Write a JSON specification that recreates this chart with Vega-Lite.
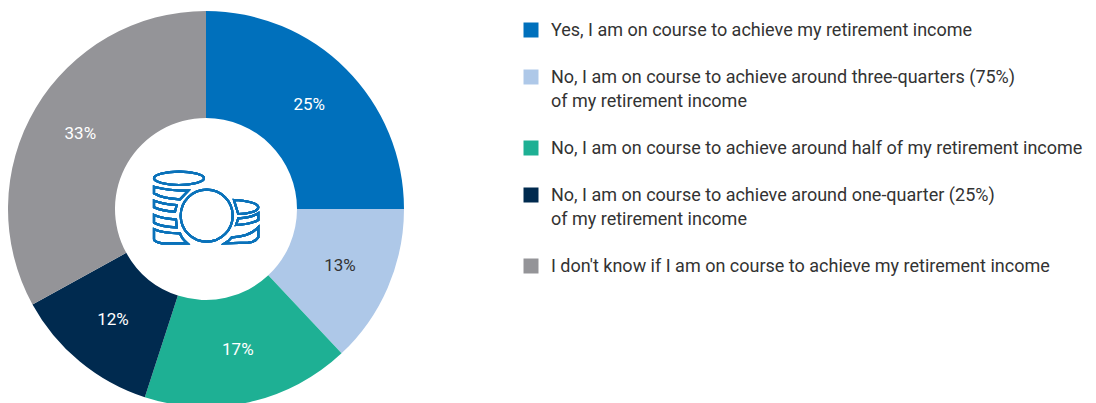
{
  "$schema": "https://vega.github.io/schema/vega-lite/v6.json",
  "width": 412,
  "height": 418,
  "padding": 0,
  "background": "white",
  "config": {"view": {"stroke": null}, "font": "Roboto"},
  "data": {"values": [
    {"rank": 1, "share": 0.25, "answer": "Yes, I am on course to achieve my retirement income"},
    {"rank": 2, "share": 0.13, "answer": "No, I am on course to achieve around three-quarters (75%)|of my retirement income"},
    {"rank": 3, "share": 0.17, "answer": "No, I am on course to achieve around half of my retirement income"},
    {"rank": 4, "share": 0.12, "answer": "No, I am on course to achieve around one-quarter (25%)|of my retirement income"},
    {"rank": 5, "share": 0.33, "answer": "I don't know if I am on course to achieve my retirement income"}
  ]},
  "layer": [
    {
      "mark": {"type": "arc", "innerRadius": 91, "outerRadius": 198},
      "encoding": {
        "theta": {"field": "share", "type": "quantitative", "stack": true},
        "order": {"field": "rank", "type": "ordinal"},
        "color": {
          "field": "answer",
          "type": "nominal",
          "sort": null,
          "scale": {
            "domain": [
              "Yes, I am on course to achieve my retirement income",
              "No, I am on course to achieve around three-quarters (75%)|of my retirement income",
              "No, I am on course to achieve around half of my retirement income",
              "No, I am on course to achieve around one-quarter (25%)|of my retirement income",
              "I don't know if I am on course to achieve my retirement income"
            ],
            "range": ["#0070bc", "#aec8e8", "#1eb094", "#002a4f", "#949498"]
          },
          "legend": {
            "orient": "none",
            "legendX": 522,
            "legendY": 21,
            "title": null,
            "symbolType": "square",
            "symbolSize": 225,
            "symbolStrokeWidth": 0,
            "symbolOpacity": 1,
            "labelFontSize": 18,
            "labelColor": "#333333",
            "labelLimit": 600,
            "labelOffset": 11,
            "labelBaseline": "alphabetic",
            "labelExpr": "split(datum.label + '|', '|')",
            "rowPadding": 4,
            "labelOverlap": false,
            "encoding": {"labels": {"lineHeight": {"value": 24}, "dy": {"value": 6}}}
          }
        }
      }
    },
    {
      "mark": {"type": "text", "radius": 146, "fontSize": 17, "dy": -1},
      "encoding": {
        "theta": {"field": "share", "type": "quantitative", "stack": true},
        "order": {"field": "rank", "type": "ordinal"},
        "text": {"field": "share", "type": "quantitative", "format": ".0%"},
        "color": {"condition": {"test": "datum.rank === 2", "value": "#333333"}, "value": "#ffffff"}
      }
    },
    {
      "mark": {
        "type": "point",
        "size": 4,
        "filled": false,
        "opacity": 1,
        "fill": null,
        "stroke": "#0a72ba",
        "strokeWidth": 2.2,
        "shape": "M-52,-30.7 C-52,-34.5 -40,-37.4 -27,-37.4 C-14,-37.4 -2,-34.5 -2,-30.7 C-2,-27 -14,-24 -27,-24 C-40,-24 -52,-27 -52,-30.7 Z M-52,-22.3 C-42,-19.5 -30,-18.3 -17.7,-18.3 L-26,-9.7 C-36,-10 -46,-12 -52,-15.7 Z M-52,-8.3 C-46,-6 -38,-4.5 -29.3,-4 L-31,2.7 C-40,2.2 -47,0.8 -52,-1.7 Z M-52,6 C-46,8.5 -38,10 -30,10.3 L-29.3,18.3 C-39,17.8 -47,16.5 -52,13.7 Z M-52,20.3 C-46,23 -36,24.3 -26,24.3 C-25,28 -22,31.5 -18.7,34.3 L-44,34.3 C-49,33.5 -52,32 -52,30.3 Z M26.67,6.7 A26,26 0 1 1 -25.33,6.7 A26,26 0 1 1 26.67,6.7 Z M28,-9 C40,-8.5 52.3,-6 52.3,-1.7 C52.3,2 43,5 32.3,5 C31,1 29,-5 28,-9 Z M52.3,4.3 L52.3,11 C47,14 39,15.7 30,16 L32.3,9.3 C40,9 48,7 52.3,4.3 Z M52.3,18.3 L52.3,28.3 C50,31.5 46,33.5 42.3,33.7 L19,34.3 C22,32.5 24,30.5 25.7,28.3 C36,28 46,25 52.3,18.3 Z"
      },
      "encoding": {}
    }
  ]
}
